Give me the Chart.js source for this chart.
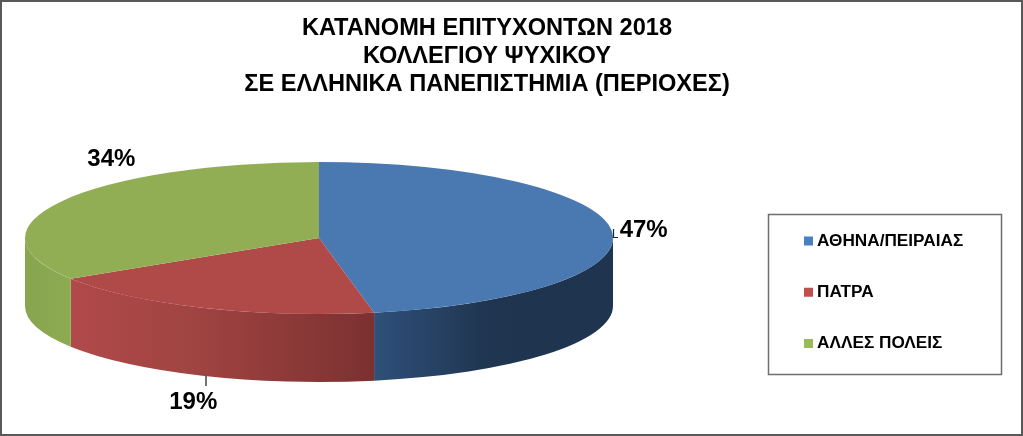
<!DOCTYPE html>
<html>
<head>
<meta charset="utf-8">
<style>html,body{margin:0;padding:0;background:#fff}canvas{display:block}</style>
<script src="https://cdn.jsdelivr.net/npm/chart.js@4"></script>
</head>
<body>
<canvas id="c" width="1023" height="436"></canvas>
<script>
const categories = ['ΑΘΗΝΑ/ΠΕΙΡΑΙΑΣ', 'ΠΑΤΡΑ', 'ΑΛΛΕΣ ΠΟΛΕΙΣ'];
const values = [47, 19, 34];
const titleLines = ['ΚΑΤΑΝΟΜΗ ΕΠΙΤΥΧΟΝΤΩΝ 2018', 'ΚΟΛΛΕΓΙΟΥ ΨΥΧΙΚΟΥ', 'ΣΕ ΕΛΛΗΝΙΚΑ ΠΑΝΕΠΙΣΤΗΜΙΑ (ΠΕΡΙΟΧΕΣ)'];
const topColors = ['#4a79b2', '#b04a48', '#92ae55'];
const legendColors = ['#4a80bf', '#c0504d', '#9bbb59'];
const sideStops = [
  [[0, '#2f5078'], [0.48, '#1f3550'], [1, '#1f344e']],
  [[0, '#b0494a'], [0.4, '#a04442'], [1, '#7b3130']],
  [[0, '#88a54f'], [1, '#8cab51']]
];

const FONT = '"Liberation Sans", Arial, sans-serif';
const PIE = {cx: 319, cy: 238, rx: 294, ry: 76, depth: 68};
const LABEL_OFFSET = [[32, 0], [-9, 27], [50, -42]];

function applyEllipse(ctx, el) {
  ctx.translate(PIE.cx, PIE.cy);
  ctx.scale(PIE.rx / el.outerRadius, PIE.ry / el.outerRadius);
  ctx.translate(-el.x, -el.y);
}

const pie3d = {
  id: 'pie3d',
  beforeDraw(chart) {
    const ctx = chart.ctx;
    ctx.save();
    ctx.fillStyle = '#fff';
    ctx.fillRect(0, 0, chart.width, chart.height);
    ctx.strokeStyle = '#595959';
    ctx.lineWidth = 3;
    ctx.strokeRect(0.5, 0.5, chart.width - 1, chart.height - 1);
    ctx.strokeStyle = '#6e6e6e';
    ctx.lineWidth = 1.5;
    ctx.strokeRect(768.5, 214.5, 233, 160);
    ctx.restore();
  },
  afterLayout(chart) {
    const t = chart.titleBlock;
    t.left = 0; t.right = 974; t.top = 4; t.bottom = 110;
    const l = chart.legend;
    const pad = l.options.labels.padding;
    l.left = 808.5 - pad; l.right = 1010; l.top = 232.5 - pad; l.bottom = 420;
  },
  beforeDatasetsDraw(chart) {
    const ctx = chart.ctx;
    chart.getDatasetMeta(0).data.forEach((el, i) => {
      const a0 = Math.max(el.startAngle, 0), a1 = Math.min(el.endAngle, Math.PI);
      if (a1 <= a0) return;
      const {cx, cy, rx, ry, depth} = PIE;
      const xs = [cx + rx * Math.cos(a0), cx + rx * Math.cos(a1)];
      const g = ctx.createLinearGradient(Math.min(...xs), 0, Math.max(...xs), 0);
      sideStops[i].forEach(s => g.addColorStop(s[0], s[1]));
      ctx.save();
      ctx.beginPath();
      ctx.ellipse(cx, cy, rx, ry, 0, a0, a1, false);
      ctx.ellipse(cx, cy + depth, rx, ry, 0, a1, a0, true);
      ctx.closePath();
      ctx.fillStyle = g;
      ctx.fill();
      ctx.restore();
    });
  },
  beforeDatasetDraw(chart) {
    const ctx = chart.ctx;
    ctx.save();
    applyEllipse(ctx, chart.getDatasetMeta(0).data[0]);
  },
  afterDatasetDraw(chart) {
    chart.ctx.restore();
  },
  afterDatasetsDraw(chart) {
    const ctx = chart.ctx;
    const {cx, cy, rx, ry, depth} = PIE;
    ctx.save();
    ctx.font = 'bold 24px ' + FONT;
    ctx.textAlign = 'center';
    ctx.textBaseline = 'middle';
    chart.getDatasetMeta(0).data.forEach((el, i) => {
      const mid = (el.startAngle + el.endAngle) / 2;
      const sn = Math.sin(mid);
      const ax = cx + rx * Math.cos(mid);
      const ay = cy + ry * sn + (sn > 0.5 ? depth : 0);
      ctx.fillStyle = '#000';
      ctx.fillText(values[i] + '%', ax + LABEL_OFFSET[i][0], ay + LABEL_OFFSET[i][1]);
    });
    ctx.lineWidth = 1.2;
    ctx.strokeStyle = '#14263c';
    ctx.beginPath();
    ctx.moveTo(613.5, 229); ctx.lineTo(613.5, 237.5); ctx.lineTo(618, 237.5);
    ctx.stroke();
    ctx.strokeStyle = '#444';
    ctx.lineWidth = 1.5;
    ctx.beginPath();
    ctx.moveTo(206, 376); ctx.lineTo(206, 386);
    ctx.stroke();
    ctx.restore();
  }
};

new Chart(document.getElementById('c').getContext('2d'), {
  type: 'pie',
  data: {
    labels: categories,
    datasets: [{data: values, backgroundColor: topColors, borderWidth: 0, clip: false}]
  },
  plugins: [pie3d],
  options: {
    responsive: false,
    animation: false,
    rotation: 0,
    plugins: {
      tooltip: {enabled: false},
      title: {
        display: true,
        text: titleLines,
        color: '#000',
        font: {family: FONT, size: 23.6, weight: 'bold', lineHeight: 1.19},
        padding: {top: 10, bottom: 0}
      },
      legend: {
        display: true,
        position: 'right',
        align: 'start',
        labels: {
          color: '#000',
          font: {family: FONT, size: 17.2, weight: 'bold'},
          usePointStyle: true,
          pointStyle: 'rect',
          boxWidth: 0.01,
          boxHeight: 9,
          padding: 34,
          generateLabels(chart) {
            return categories.map((c, i) => ({
              text: c, fillStyle: legendColors[i], strokeStyle: legendColors[i],
              lineWidth: 0, pointStyle: 'rect', fontColor: '#000', index: i, hidden: false
            }));
          }
        }
      }
    }
  }
});
</script>
</body>
</html>
